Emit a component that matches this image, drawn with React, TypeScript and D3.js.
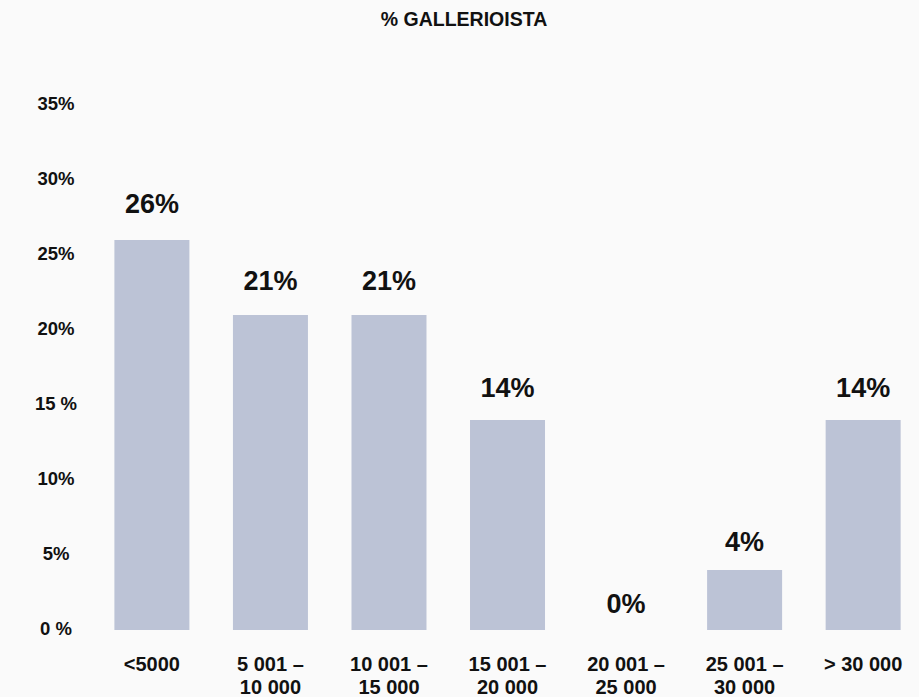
import React from "react";
import * as d3 from "d3";

const title = "% GALLERIOISTA";
const categories = ["<5000", "5 001 –|10 000", "10 001 –|15 000", "15 001 –|20 000", "20 001 –|25 000", "25 001 –|30 000", "> 30 000"];
const values = [26, 21, 21, 14, 0, 4, 14];
const yTicks = [0, 5, 10, 15, 20, 25, 30, 35];
const yTickLabels = ["0 %", "5%", "10%", "15 %", "20%", "25%", "30%", "35%"];

const W = 919;
const H = 697;
const FONT = "'Liberation Sans', Arial, Helvetica, sans-serif";

export default function App() {
  const x = d3
    .scaleBand<string>()
    .domain(categories)
    .range([92.63, 922.41])
    .paddingInner(0.3673)
    .paddingOuter(0.18365);
  const y = d3.scaleLinear().domain([0, 35]).range([630, 105]);
  const labelY = d3.scaleLinear().domain([0, 26]).range([613, 212.7]);

  return (
    <>
      <style>{`body{margin:0;}`}</style>
      <svg width={W} height={H} style={{ display: "block", background: "#fafafa" }} fontFamily={FONT}>
        <rect x={0} y={0} width={W} height={H} fill="#fafafa" />
        <text x={464} y={25.5} textAnchor="middle" fontSize={19.5} fontWeight="bold" fill="#111">
          {title}
        </text>
        {yTicks.map((t, i) => (
          <text key={t} x={56} y={y(t) + 4.5} textAnchor="middle" fontSize={18.5} fontWeight="bold" fill="#111">
            {yTickLabels[i]}
          </text>
        ))}
        {categories.map((c, i) => (
          <rect key={c} x={x(c)} y={y(values[i])} width={x.bandwidth()} height={y(0) - y(values[i])} fill="#bcc3d6" />
        ))}
        {categories.map((c, i) => (
          <text
            key={"v" + c}
            x={(x(c) as number) + x.bandwidth() / 2}
            y={labelY(values[i])}
            textAnchor="middle"
            fontSize={27}
            fontWeight="bold"
            fill="#111"
          >
            {values[i] + "%"}
          </text>
        ))}
        {categories.map((c) => (
          <text key={"x" + c} textAnchor="middle" fontSize={20} fontWeight="bold" fill="#111">
            {c.split("|").map((line, j) => (
              <tspan key={j} x={(x(c) as number) + x.bandwidth() / 2} y={671 + j * 22.7}>
                {line}
              </tspan>
            ))}
          </text>
        ))}
      </svg>
    </>
  );
}
